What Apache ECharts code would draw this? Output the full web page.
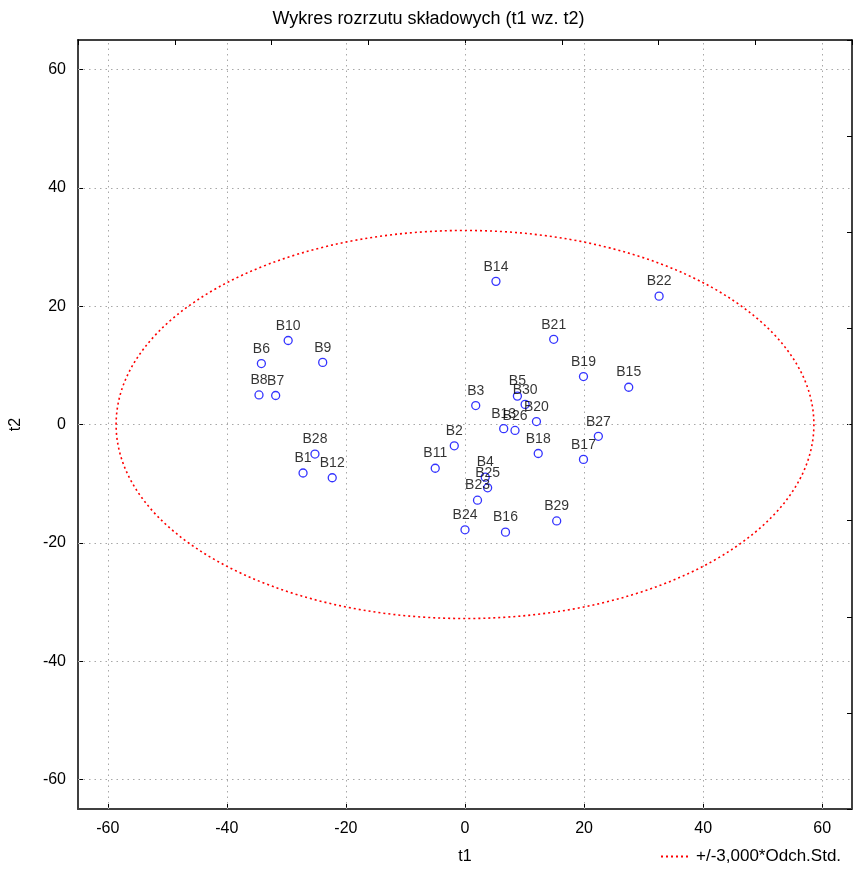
<!DOCTYPE html>
<html>
<head>
<meta charset="utf-8">
<script src="https://cdn.jsdelivr.net/npm/echarts@6/dist/echarts.min.js"></script>
<style>html,body{margin:0;padding:0;background:#fff}#c{width:857px;height:870px}</style>
</head>
<body>
<div id="c"></div>
<script>
const titleText = 'Wykres rozrzutu składowych (t1 wz. t2)';
const legendText = '+/-3,000*Odch.Std.';
const xTicks = [-60, -40, -20, 0, 20, 40, 60];
const yTicks = [-60, -40, -20, 0, 20, 40, 60];
const pointNames = ['B1','B2','B3','B4','B5','B6','B7','B8','B9','B10','B11','B12','B13','B14','B15','B16','B17','B18','B19','B20','B21','B22','B23','B24','B25','B26','B27','B28','B29','B30'];
const t1Values = [-27.2,-1.8,1.8,3.4,8.8,-34.2,-31.8,-34.6,-23.9,-29.7,-5.0,-22.3,6.5,5.2,27.5,6.8,19.9,12.3,19.9,12.0,14.9,32.6,2.1,0.0,3.8,8.4,22.4,-25.2,15.4,10.1];
const t2Values = [-8.2,-3.6,3.2,-8.9,4.8,10.3,4.9,5.0,10.5,14.2,-7.4,-9.0,-0.7,24.2,6.3,-18.2,-5.9,-4.9,8.1,0.5,14.4,21.7,-12.8,-17.8,-10.7,-1.0,-2.0,-5.0,-16.3,3.4];
const ellipse = [0, 0, 58.6, 32.8]; // center t1, center t2, semi-axis t1, semi-axis t2

const font = 'Arial, "Liberation Sans", sans-serif';
const chart = echarts.init(document.getElementById('c'));
const pts = pointNames.map((n, i) => ({ name: n, value: [t1Values[i], t2Values[i]] }));
const gridLineStyle = { color: '#a8a8a8', width: 1, type: [1.5, 4] };

chart.setOption({
  animation: false,
  title: { text: titleText, left: 'center', top: 5, textStyle: { fontFamily: font, fontSize: 18, fontWeight: 'normal', color: '#000' } },
  legend: {
    left: 660, top: 848, itemWidth: 30, itemHeight: 10, itemGap: 10, padding: 0,
    itemStyle: { opacity: 0 },
    textStyle: { fontFamily: font, fontSize: 17, color: '#000' },
    data: [legendText]
  },
  grid: { left: 78, right: 5, top: 40, bottom: 59, containLabel: false },
  xAxis: [
    { type: 'value', position: 'bottom', min: -65, max: 65, name: 't1', nameLocation: 'middle', nameGap: 40,
      nameTextStyle: { fontFamily: font, fontSize: 16, color: '#000' },
      axisLine: { show: true, onZero: false, lineStyle: { color: '#404040', width: 2 } },
      axisTick: { show: true, inside: true, length: 5, customValues: xTicks, lineStyle: { color: '#000' } },
      axisLabel: { customValues: xTicks, margin: 12, fontFamily: font, fontSize: 16, color: '#000' },
      splitLine: { show: false } },
    { type: 'value', position: 'top', min: -65, max: 65, interval: 16.25,
      axisLine: { show: true, onZero: false, lineStyle: { color: '#000', width: 1.5 } },
      axisTick: { show: true, inside: true, length: 5, lineStyle: { color: '#000' } },
      axisLabel: { show: false }, splitLine: { show: false } }
  ],
  yAxis: [
    { type: 'value', position: 'left', min: -65, max: 65, name: 't2', nameLocation: 'middle', nameGap: 54,
      nameTextStyle: { fontFamily: font, fontSize: 16, color: '#000' },
      axisLine: { show: true, onZero: false, lineStyle: { color: '#404040', width: 2 } },
      axisTick: { show: true, inside: true, length: 5, customValues: yTicks, lineStyle: { color: '#000' } },
      axisLabel: { customValues: yTicks, margin: 12, fontFamily: font, fontSize: 16, color: '#000' },
      splitLine: { show: false } },
    { type: 'value', position: 'right', min: -65, max: 65, interval: 16.25,
      axisLine: { show: true, onZero: false, lineStyle: { color: '#000', width: 1.5 } },
      axisTick: { show: true, inside: true, length: 5, lineStyle: { color: '#000' } },
      axisLabel: { show: false }, splitLine: { show: false } }
  ],
  series: [
    { type: 'custom', name: 'ellipse', silent: true, z: 3,
      data: [ellipse],
      renderItem: function (params, api) {
        const c = api.coord([api.value(0), api.value(1)]);
        const s = api.size([api.value(2), api.value(3)]);
        return { type: 'ellipse', shape: { cx: c[0], cy: c[1], rx: s[0], ry: s[1] },
          style: { fill: 'none', stroke: '#ff0000', lineWidth: 1.6, lineDash: [2, 3] } };
      },
      markLine: {
        silent: true, symbol: 'none', animation: false, label: { show: false },
        lineStyle: gridLineStyle, z: 1,
        data: xTicks.map(v => ({ xAxis: v })).concat(yTicks.map(v => ({ yAxis: v })))
      }
    },
    { type: 'line', name: legendText, data: [], symbol: 'none', showSymbol: false,
      lineStyle: { color: '#ff0000', width: 1.6, type: [2, 3] }, itemStyle: { color: '#ff0000' } },
    { type: 'scatter', name: 'pts', data: pts, symbol: 'circle', symbolSize: 8, z: 5,
      itemStyle: { color: '#ffffff', borderColor: '#0000ff', borderWidth: 1.3 },
      label: { show: true, position: 'top', distance: 3, formatter: '{b}', fontFamily: font, fontSize: 14, color: '#000' } }
  ]
});
</script>
</body>
</html>
